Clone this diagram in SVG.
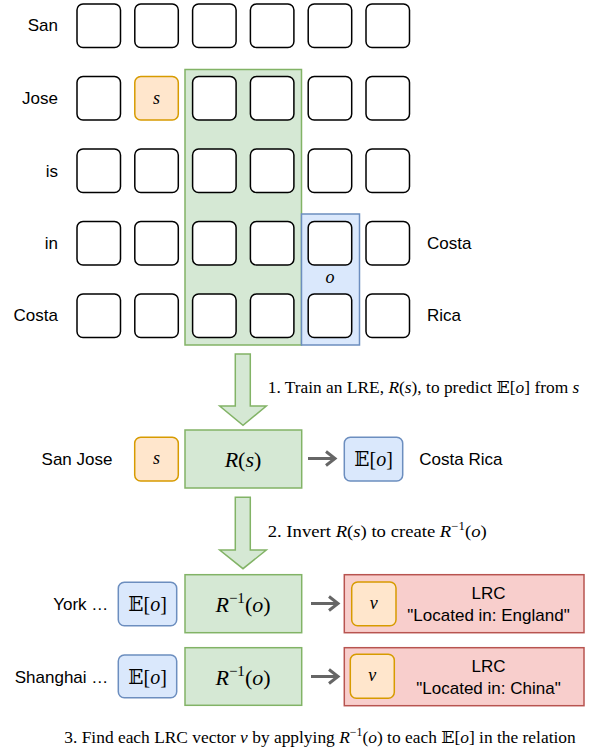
<svg xmlns="http://www.w3.org/2000/svg" width="589" height="749" viewBox="0 0 589 749">
<style>
.cell{fill:#fff;stroke:#000;stroke-width:1.5}
.orange{fill:#ffe6cc;stroke:#d79b00;stroke-width:1.5}
.blue{fill:#dae8fc;stroke:#6c8ebf;stroke-width:1.5}
.green{fill:#d5e8d4;stroke:#82b366;stroke-width:1.5}
.red{fill:#f8cecc;stroke:#b85450;stroke-width:1.5}
.lbl{font-family:"Liberation Sans",Arial,sans-serif;font-size:17px;fill:#000}
.math{font-family:"Liberation Serif","DejaVu Serif",serif;fill:#000}
.it{font-style:italic}
.bb{font-family:"DejaVu Serif","DejaVu Sans",serif;font-style:normal}
.conn{fill:none;stroke:#666;stroke-width:3}
.blk{fill:#d5e8d4;stroke:#82b366;stroke-width:1.5}
</style>
<defs>
<rect id="c" width="43.5" height="43.5" rx="6"/>
</defs>

<g id="regions">
<rect id="green-col" class="green" x="185" y="69.5" width="116.5" height="275.5"/>
<rect id="blue-col" class="blue" x="301.5" y="214" width="58" height="131"/>
<text class="math it" x="330" y="283" font-size="18" text-anchor="middle">o</text>
</g>

<g id="grid">
<use href="#c" class="cell" x="77" y="4"/><use href="#c" class="cell" x="134.8" y="4"/><use href="#c" class="cell" x="192.6" y="4"/><use href="#c" class="cell" x="250.4" y="4"/><use href="#c" class="cell" x="308.2" y="4"/><use href="#c" class="cell" x="366" y="4"/>
<use href="#c" class="cell" x="77" y="76.5"/><use href="#c" class="orange" x="134.8" y="76.5"/><use href="#c" class="cell" x="192.6" y="76.5"/><use href="#c" class="cell" x="250.4" y="76.5"/><use href="#c" class="cell" x="308.2" y="76.5"/><use href="#c" class="cell" x="366" y="76.5"/>
<use href="#c" class="cell" x="77" y="149"/><use href="#c" class="cell" x="134.8" y="149"/><use href="#c" class="cell" x="192.6" y="149"/><use href="#c" class="cell" x="250.4" y="149"/><use href="#c" class="cell" x="308.2" y="149"/><use href="#c" class="cell" x="366" y="149"/>
<use href="#c" class="cell" x="77" y="221.5"/><use href="#c" class="cell" x="134.8" y="221.5"/><use href="#c" class="cell" x="192.6" y="221.5"/><use href="#c" class="cell" x="250.4" y="221.5"/><use href="#c" class="cell" x="308.2" y="221.5"/><use href="#c" class="cell" x="366" y="221.5"/>
<use href="#c" class="cell" x="77" y="294"/><use href="#c" class="cell" x="134.8" y="294"/><use href="#c" class="cell" x="192.6" y="294"/><use href="#c" class="cell" x="250.4" y="294"/><use href="#c" class="cell" x="308.2" y="294"/><use href="#c" class="cell" x="366" y="294"/>
<text class="math it" x="156.5" y="104" font-size="18" text-anchor="middle">s</text>
</g>

<g id="grid-labels" class="lbl">
<text x="58" y="31" text-anchor="end">San</text>
<text x="58" y="104" text-anchor="end">Jose</text>
<text x="58" y="176.5" text-anchor="end">is</text>
<text x="58" y="249" text-anchor="end">in</text>
<text x="58" y="321" text-anchor="end">Costa</text>
<text x="427" y="248.5">Costa</text>
<text x="427" y="321">Rica</text>
</g>

<g id="connectors">
<polygon id="step1-arrow" class="blk" points="235.3,354 250.3,354 250.3,406 266.3,406 243,425.3 219.7,406 235.3,406"/>
<polygon id="step2-arrow" class="blk" points="235.3,497.3 250.3,497.3 250.3,550 266.3,550 243,568.7 219.7,550 235.3,550"/>
<path class="conn" d="M308,458.5 H334 M326,451.5 L335,458.5 L326,465.5"/>
<path class="conn" d="M311,603.5 H337 M329,596.5 L338,603.5 L329,610.5"/>
<path class="conn" d="M311,676.5 H337 M329,669.5 L338,676.5 L329,683.5"/>
</g>

<g id="step-labels" class="math" font-size="17.5">
<text x="267.7" y="392.5" textLength="311.6" lengthAdjust="spacingAndGlyphs">1. Train an LRE, <tspan class="it">R</tspan>(<tspan class="it">s</tspan>), to predict <tspan class="bb">𝔼</tspan>[<tspan class="it">o</tspan>] from <tspan class="it">s</tspan></text>
<text x="267.7" y="536.5" textLength="219" lengthAdjust="spacingAndGlyphs">2. Invert <tspan class="it">R</tspan>(<tspan class="it">s</tspan>) to create <tspan class="it">R</tspan><tspan font-size="12" dy="-7">−1</tspan><tspan dy="7">(</tspan><tspan class="it">o</tspan>)</text>
<text x="64.3" y="742.5" textLength="511.4" lengthAdjust="spacingAndGlyphs">3. Find each LRC vector <tspan class="it">v</tspan> by applying <tspan class="it">R</tspan><tspan font-size="12" dy="-7">−1</tspan><tspan dy="7">(</tspan><tspan class="it">o</tspan>) to each <tspan class="bb">𝔼</tspan>[<tspan class="it">o</tspan>] in the relation</text>
</g>

<g id="row-sanjose">
<text class="lbl" x="77" y="464.5" text-anchor="middle">San Jose</text>
<rect class="orange" x="134.7" y="437.3" width="43.6" height="43.7" rx="6"/>
<text class="math it" x="156.5" y="464" font-size="18" text-anchor="middle">s</text>
</g>
<g id="node-R">
<rect class="green" x="185" y="430" width="116.7" height="58"/>
<text class="math" x="243" y="466.5" font-size="22" text-anchor="middle"><tspan class="it">R</tspan>(<tspan class="it">s</tspan>)</text>
</g>
<g id="node-Eo">
<rect class="blue" x="344.3" y="437.3" width="58.4" height="43.7" rx="6"/>
<text class="math" x="373.5" y="466" font-size="20" text-anchor="middle"><tspan class="bb">𝔼</tspan>[<tspan class="it">o</tspan>]</text>
<text class="lbl" x="419.3" y="464.5">Costa Rica</text>
</g>

<g id="row-york">
<text class="lbl" x="108.3" y="609.5" text-anchor="end">York …</text>
<rect class="blue" x="118.3" y="582.3" width="58.4" height="43.4" rx="6"/>
<text class="math" x="147.5" y="611" font-size="20" text-anchor="middle"><tspan class="bb">𝔼</tspan>[<tspan class="it">o</tspan>]</text>
</g>
<g id="node-Rinv-1">
<rect class="green" x="185" y="574.7" width="116.7" height="58"/>
<text class="math" x="243" y="611.5" font-size="22" text-anchor="middle"><tspan class="it">R</tspan><tspan font-size="15" dy="-9">−1</tspan><tspan dy="9">(</tspan><tspan class="it">o</tspan>)</text>
</g>
<g id="node-lrc-1">
<rect class="red" x="344.3" y="574.7" width="239.7" height="58"/>
<rect class="orange" x="351.7" y="582" width="44.3" height="43.7" rx="6"/>
<text class="math it" x="373.8" y="608.5" font-size="18" text-anchor="middle">v</text>
<text class="lbl" x="488.5" y="599.3" text-anchor="middle">LRC</text>
<text class="lbl" x="488.5" y="621" text-anchor="middle">"Located in: England"</text>
</g>

<g id="row-shanghai">
<text class="lbl" x="108.3" y="682.5" text-anchor="end">Shanghai …</text>
<rect class="blue" x="118.3" y="655" width="58.4" height="42.7" rx="6"/>
<text class="math" x="147.5" y="683.5" font-size="20" text-anchor="middle"><tspan class="bb">𝔼</tspan>[<tspan class="it">o</tspan>]</text>
</g>
<g id="node-Rinv-2">
<rect class="green" x="185" y="647.7" width="116.7" height="57.6"/>
<text class="math" x="243" y="684.5" font-size="22" text-anchor="middle"><tspan class="it">R</tspan><tspan font-size="15" dy="-9">−1</tspan><tspan dy="9">(</tspan><tspan class="it">o</tspan>)</text>
</g>
<g id="node-lrc-2">
<rect class="red" x="344.3" y="647.7" width="239.7" height="58"/>
<rect class="orange" x="350.3" y="654.3" width="44" height="44" rx="6"/>
<text class="math it" x="372.3" y="681" font-size="18" text-anchor="middle">v</text>
<text class="lbl" x="488.5" y="672" text-anchor="middle">LRC</text>
<text class="lbl" x="488.5" y="693.7" text-anchor="middle">"Located in: China"</text>
</g>
</svg>
